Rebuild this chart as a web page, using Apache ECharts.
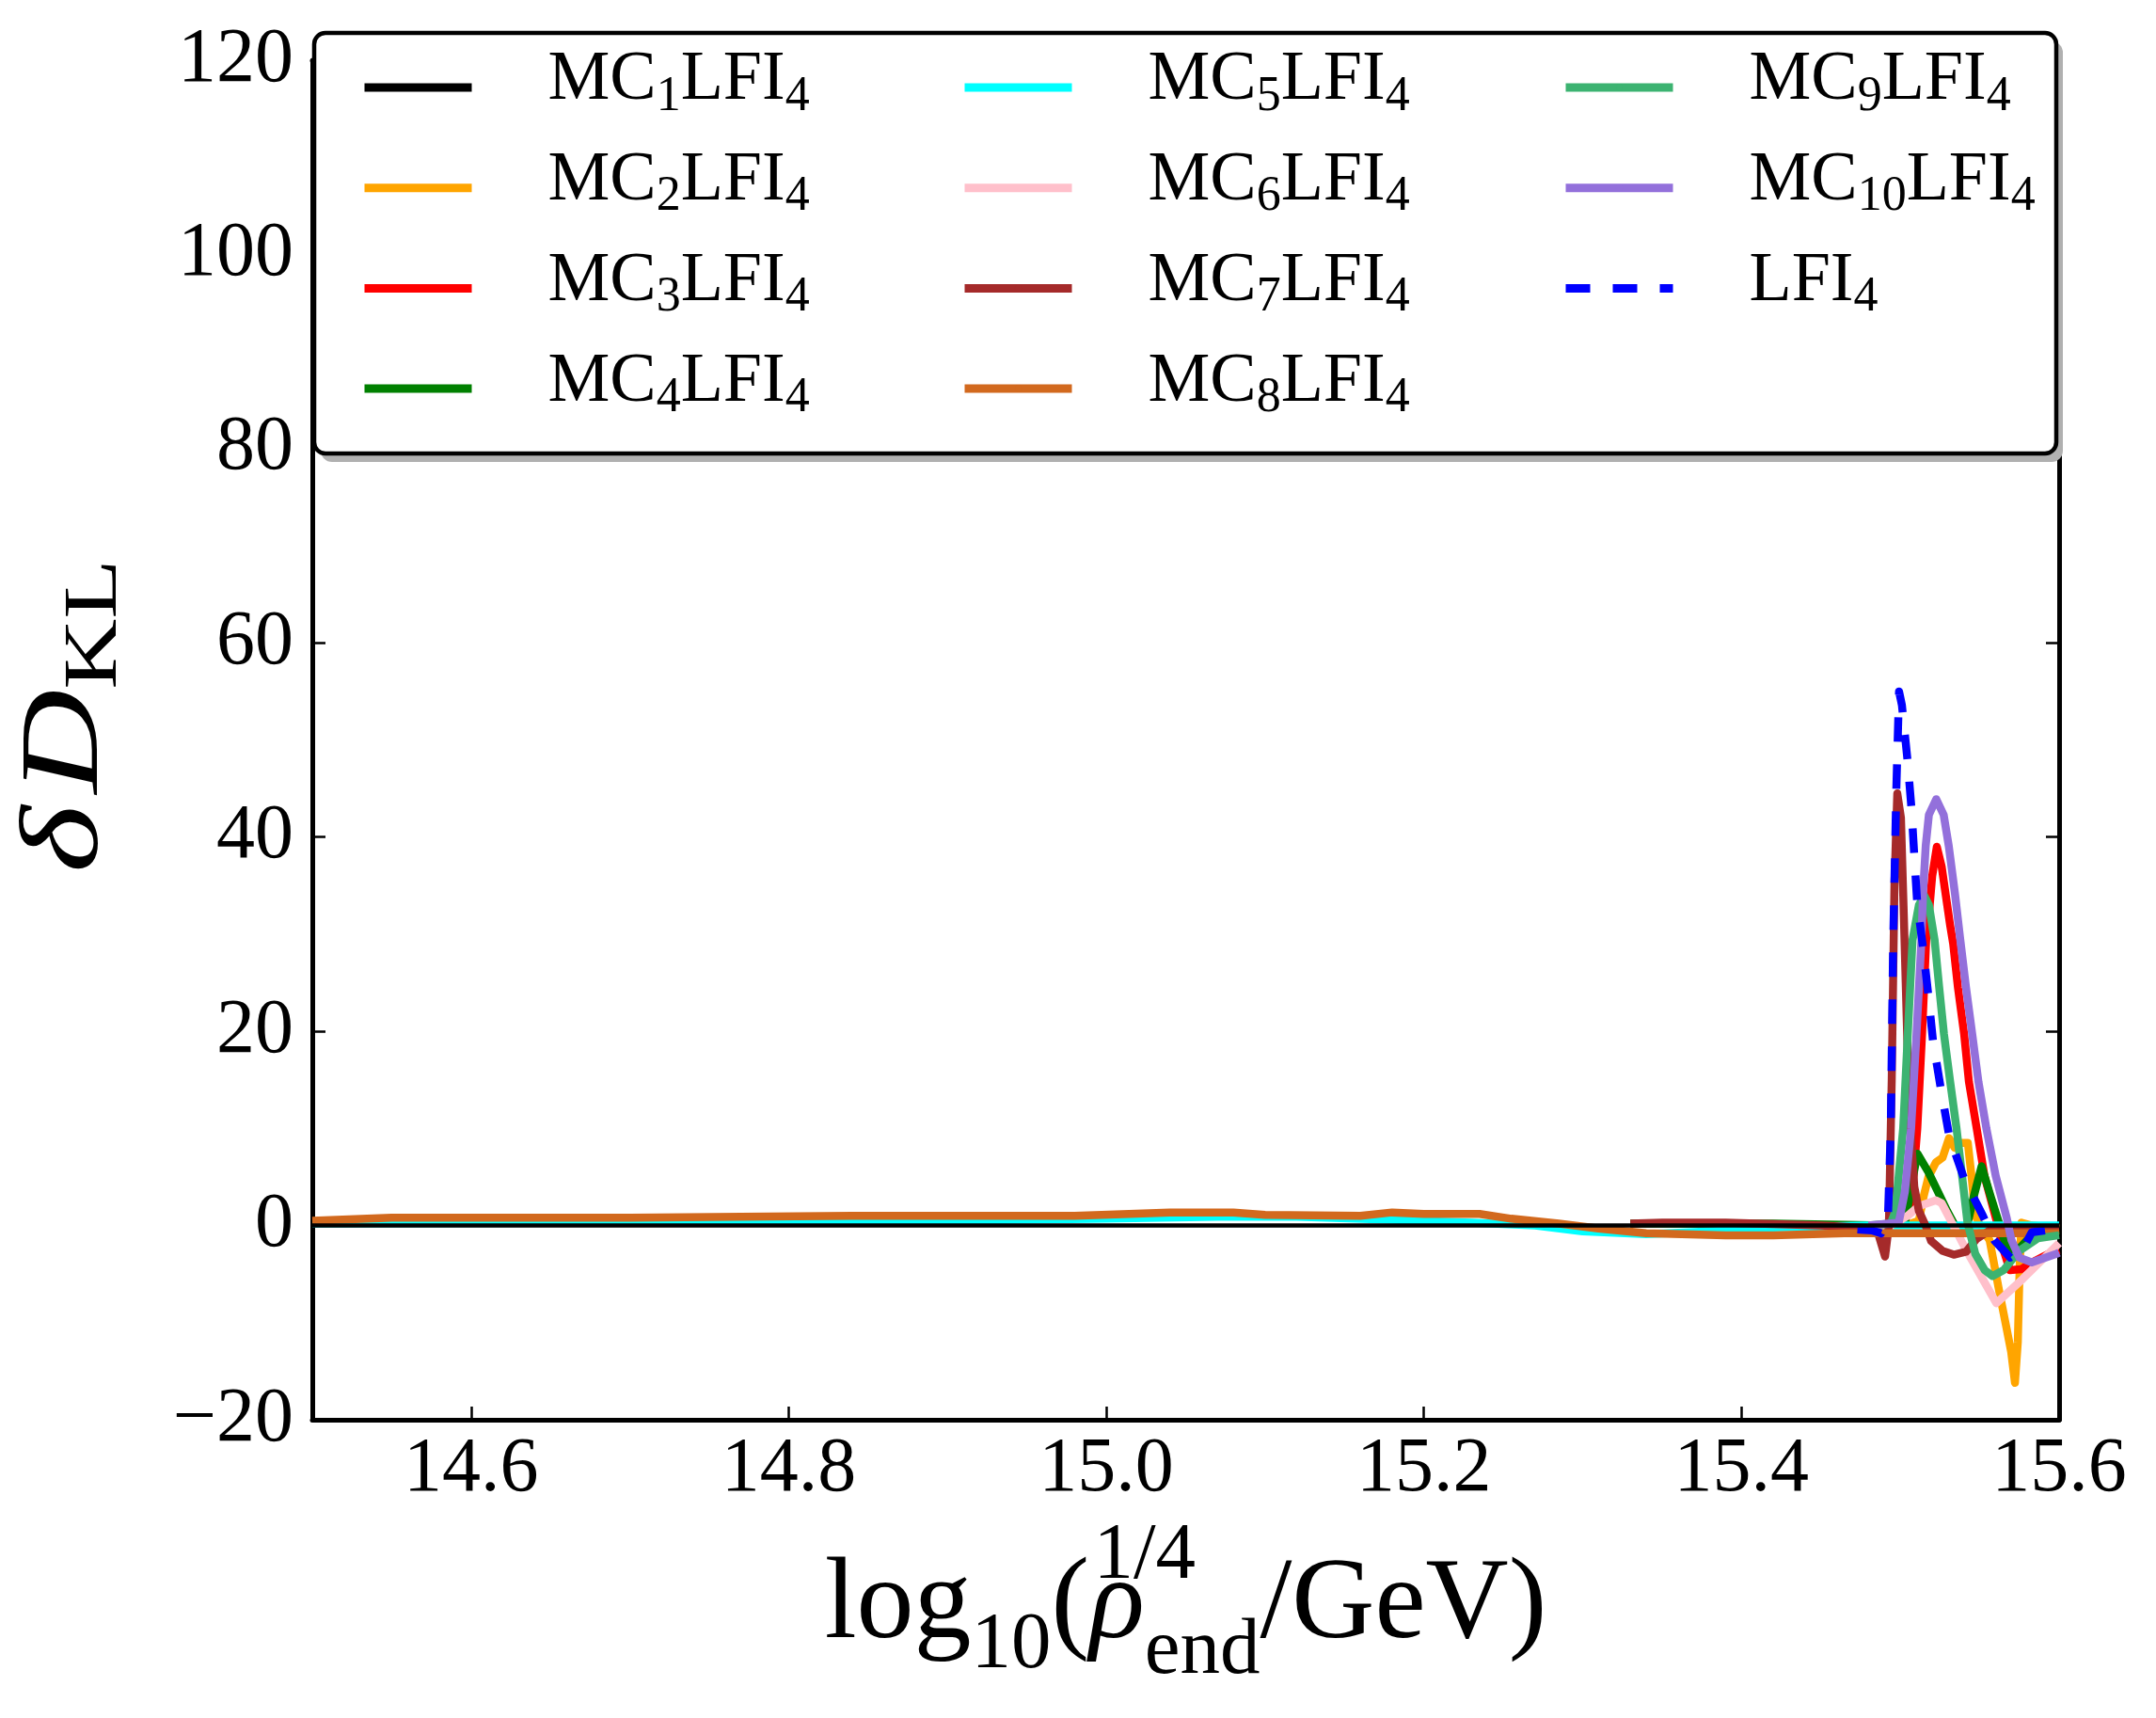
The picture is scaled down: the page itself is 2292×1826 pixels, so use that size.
<!DOCTYPE html>
<html><head><meta charset="utf-8">
<script src="https://cdn.jsdelivr.net/npm/echarts@6/dist/echarts.min.js"></script>
<style>html,body{margin:0;padding:0;background:#fff}#c{width:2292px;height:1826px}</style>
</head><body><div id="c"></div>
<script>
// ---- tick values ----
const xTicks = [14.6, 14.8, 15.0, 15.2, 15.4, 15.6];
const yTicks = [-20, 0, 20, 40, 60, 80, 100, 120];

// ---- series names & colours ----
const seriesNames = ['MC1LFI4','MC2LFI4','MC3LFI4','MC4LFI4','MC5LFI4','MC6LFI4','MC7LFI4','MC8LFI4','MC9LFI4','MC10LFI4','LFI4'];
const seriesColors = ['#000000','#FFA500','#FF0000','#008000','#00FFFF','#FFC0CB','#A52A2A','#D2691E','#3CB371','#9370DB','#0000FF'];

// ---- data: [log10(rho_end^(1/4)/GeV), delta D_KL] ----
const MC1 = [[14.5,0],[15.6,0]];
const MC2 = [[15.48,0.0],[15.505,0.1],[15.5117,0.5],[15.5147,3.0],[15.5177,5.0],[15.5224,6.5],[15.5266,7.0],[15.5307,9.0],[15.5342,8.0],[15.5384,8.5],[15.5425,8.5],[15.5449,5.0],[15.5473,1.0],[15.5520,-0.5],[15.5562,-1.5],[15.5591,-4.0],[15.5621,-6.6],[15.5662,-10.0],[15.5698,-13.0],[15.5722,-16.2],[15.5740,-12.0],[15.5752,-4.0],[15.5763,0.3],[15.5828,0.0],[15.6,-0.3]];
const MC3 = [[15.48,0],[15.500,0.1],[15.5068,2.0],[15.5107,10.0],[15.5137,19.7],[15.5163,29.4],[15.5180,32.0],[15.5201,36.0],[15.5230,39.0],[15.5260,37.0],[15.5274,35.4],[15.5313,31.0],[15.5333,29.0],[15.5363,24.5],[15.5402,19.7],[15.5432,14.8],[15.5481,10.0],[15.5530,5.1],[15.5609,0.3],[15.5650,-2.5],[15.5690,-4.6],[15.5760,-4.5],[15.5830,-3.8],[15.5947,-2.8],[15.6,-2.5]];
const MC4 = [[15.33,0.2],[15.42,0.2],[15.49,0],[15.503,0.3],[15.508,5.0],[15.5108,7.4],[15.5177,5.5],[15.5236,3.5],[15.5295,1.5],[15.5354,-0.3],[15.5414,-0.5],[15.5461,2.9],[15.5512,6.1],[15.5571,2.9],[15.5621,0.3],[15.5680,-2.8],[15.5740,-2.5],[15.5828,-1.0],[15.6,-0.5]];
const MC5 = [[14.5,0.2],[14.6,0.25],[14.7,0.3],[14.8,0.4],[14.9,0.5],[15.0,0.7],[15.07,0.9],[15.12,0.9],[15.18,0.6],[15.23,0.3],[15.27,0.0],[15.3,-0.6],[15.34,-0.9],[15.38,-0.6],[15.42,-0.2],[15.48,0],[15.6,0]];
const MC6 = [[15.48,0],[15.4940,0],[15.5046,1.0],[15.5117,2.0],[15.5224,2.6],[15.5260,2.3],[15.5414,-2.5],[15.5605,-8.0],[15.5771,-5.5],[15.6,-1.8]];
const MC7 = [[15.33,0.2],[15.35,0.3],[15.39,0.3],[15.45,0.0],[15.4851,-0.3],[15.4904,-3.2],[15.4928,0],[15.4946,15],[15.4963,35],[15.4981,44.5],[15.5004,42],[15.5022,32],[15.5034,25],[15.5046,18],[15.5064,10],[15.5088,4],[15.5117,1.5],[15.5159,0],[15.5194,-1.6],[15.5266,-2.6],[15.5337,-3.0],[15.5414,-2.7],[15.5479,-1.4],[15.5562,-0.5],[15.6,-0.3]];
const MC8 = [[14.5,0.5],[14.55,0.8],[14.7,0.8],[14.84,1.0],[14.98,1.0],[15.04,1.35],[15.08,1.35],[15.1,1.1],[15.16,1.0],[15.18,1.35],[15.2,1.2],[15.235,1.2],[15.255,0.7],[15.285,0.2],[15.31,-0.3],[15.34,-0.8],[15.39,-1.0],[15.42,-1.0],[15.465,-0.8],[15.5,-0.8],[15.6,-0.8]];
const MC9 = [[15.48,0],[15.4940,0.2],[15.4969,1.5],[15.5018,10],[15.5047,19.7],[15.5077,29.4],[15.5117,33.0],[15.5150,34.0],[15.5180,33.0],[15.5216,29.4],[15.5245,24.5],[15.5275,19.7],[15.5314,14.8],[15.5354,10],[15.5389,5.1],[15.5423,0.3],[15.5472,-2.9],[15.5532,-4.6],[15.5581,-5.2],[15.5650,-4.6],[15.5749,-2.6],[15.5868,-1.3],[15.6,-1.0]];
const MC10 = [[15.48,0],[15.4990,0.3],[15.5029,3.5],[15.5068,10.0],[15.5102,19.7],[15.5133,29.4],[15.5143,34.2],[15.5160,39.1],[15.5180,42.3],[15.5226,43.9],[15.5273,42.3],[15.5305,39.1],[15.5344,34.2],[15.5378,29.4],[15.5414,24.5],[15.5453,19.7],[15.5492,14.8],[15.5542,10.0],[15.5601,5.1],[15.5670,0.8],[15.5700,-1.5],[15.5749,-3.3],[15.5828,-3.8],[15.5986,-2.9],[15.6,-2.8]];
const LFI = [[15.473,-0.4],[15.4821,-0.5],[15.4880,-0.8],[15.4922,0.7],[15.4940,10],[15.4955,29],[15.4975,45],[15.4992,55],[15.5010,53.6],[15.5046,47.8],[15.5070,43],[15.5088,38.1],[15.5106,33.3],[15.5147,28.1],[15.5177,23.6],[15.5206,19.0],[15.5254,14.2],[15.5307,9.3],[15.5402,4.8],[15.5520,1.0],[15.5591,-1.5],[15.5692,-3.3],[15.5770,-2.5],[15.5828,-0.7],[15.6,-0.3]];

const seriesData = [MC1, MC2, MC3, MC4, MC5, MC6, MC7, MC8, MC9, MC10, LFI];

const SERIF = "'Liberation Serif', 'DejaVu Serif', serif";

const series = seriesNames.map((name, i) => ({
  name: name,
  type: 'line',
  data: seriesData[i],
  symbol: 'none',
  showSymbol: false,
  clip: true,
  z: i === 0 ? 4 : 2,
  color: seriesColors[i],
  lineStyle: {
    color: seriesColors[i],
    width: i === 0 ? 4.5 : 8.5,
    type: name === 'LFI4' ? [26, 24] : 'solid',
    cap: 'butt',
    join: 'round'
  }
}));

function legendLabel(name) {
  const m = name.match(/^MC(\d+)LFI4$/);
  if (m) return '{sp| }{m|MC}{s|' + m[1] + '}{m|LFI}{s|4}';
  return '{sp| }{m|LFI}{s|4}';
}
const legendRich = {
  sp: { width: 76, lineHeight: 60, fontSize: 10 },
  m: { fontFamily: SERIF, fontSize: 74, color: '#000', height: 46, lineHeight: 46, verticalAlign: 'top' },
  s: { fontFamily: SERIF, fontSize: 52, color: '#000', height: 40, lineHeight: 40, verticalAlign: 'bottom' }
};
function makeLegend(names, left) {
  return {
    data: names,
    orient: 'vertical',
    left: left,
    top: 49,
    itemWidth: 114,
    itemHeight: 9,
    itemGap: 26.7,
    padding: 0,
    z: 200,
    selectedMode: false,
    lineStyle: { width: 9 },
    formatter: legendLabel,
    textStyle: { rich: legendRich, fontFamily: SERIF, fontSize: 74 }
  };
}

const axisCommon = {
  type: 'value',
  axisLine: { show: true, onZero: false, lineStyle: { color: '#000', width: 5 } },
  splitLine: { show: false },
};

const chart = echarts.init(document.getElementById('c'), null, { renderer: 'canvas' });
chart.setOption({
  animation: false,
  backgroundColor: '#fff',
  grid: { left: 332, right: 103, top: 64, bottom: 317, containLabel: false },
  xAxis: [
    Object.assign({}, axisCommon, {
      position: 'bottom', min: 14.5, max: 15.6,
      axisTick: { show: true, inside: true, length: 14, lineStyle: { color: '#000', width: 2.5 }, customValues: xTicks },
      axisLabel: { show: true, customValues: xTicks, margin: 12, fontFamily: SERIF, fontSize: 82, color: '#000',
        formatter: v => Number(v).toFixed(1) },
      name: '{t|log}{s|10}{t|(}{r|ρ}{u|1/4}{e|end}{t|/GeV)}',
      nameLocation: 'middle', nameGap: 80,
      nameTextStyle: { rich: {
        t: { fontFamily: SERIF, fontSize: 122, color: '#000', lineHeight: 200 },
        r: { fontFamily: SERIF, fontSize: 122, fontStyle: 'italic', color: '#000', lineHeight: 200 },
        s: { fontFamily: SERIF, fontSize: 85, color: '#000', height: 116, lineHeight: 116, verticalAlign: 'bottom' },
        u: { fontFamily: SERIF, fontSize: 85, color: '#000', height: 94, lineHeight: 94, verticalAlign: 'top', width: 0, align: 'left' },
        e: { fontFamily: SERIF, fontSize: 85, color: '#000', height: 104, lineHeight: 104, verticalAlign: 'bottom' }
      } }
    }),
    Object.assign({}, axisCommon, {
      position: 'top', min: 14.5, max: 15.6,
      axisTick: { show: true, inside: true, length: 14, lineStyle: { color: '#000', width: 2.5 }, customValues: xTicks },
      axisLabel: { show: false }
    })
  ],
  yAxis: [
    Object.assign({}, axisCommon, {
      position: 'left', min: -20, max: 120, interval: 20,
      axisTick: { show: true, inside: true, length: 14, lineStyle: { color: '#000', width: 2.5 } },
      axisLabel: { show: true, margin: 20, fontFamily: SERIF, fontSize: 82, color: '#000',
        formatter: v => (v < 0 ? '\u2212' + Math.abs(v) : String(v)) }
    }),
    Object.assign({}, axisCommon, {
      position: 'right', min: -20, max: 120, interval: 20,
      axisTick: { show: true, inside: true, length: 14, lineStyle: { color: '#000', width: 2.5 } },
      axisLabel: { show: false }
    })
  ],
  legend: [
    makeLegend(seriesNames.slice(0, 4), 383),
    makeLegend(seriesNames.slice(4, 8), 1021),
    makeLegend(seriesNames.slice(8, 11), 1660)
  ],
  graphic: [
    { type: 'rect', z: 100, silent: true,
      shape: { x: 341, y: 44, width: 1852, height: 447, r: 12 },
      style: { fill: '#b0b0b0' } },
    { type: 'rect', z: 101, silent: true,
      shape: { x: 334, y: 35, width: 1852, height: 447, r: 12 },
      style: { fill: '#ffffff', stroke: '#000', lineWidth: 4.5 } },
    { type: 'text', z: 50, silent: true,
      x: 72, y: 761, rotation: Math.PI / 2, scaleX: 1.3, scaleY: 1,
      style: {
        text: '{i|δ}{g| }{i|D}{k|KL}',
        align: 'center', verticalAlign: 'middle',
        fill: '#000',
        rich: {
          i: { fontFamily: SERIF, fontSize: 118, fontStyle: 'italic', fill: '#000', color: '#000', lineHeight: 160 },
          g: { fontFamily: SERIF, fontSize: 40, lineHeight: 160 },
          k: { fontFamily: SERIF, fontSize: 80, fill: '#000', color: '#000', height: 100, lineHeight: 100, verticalAlign: 'bottom' }
        }
      } }
  ],
  series: series
});
</script>
</body></html>
